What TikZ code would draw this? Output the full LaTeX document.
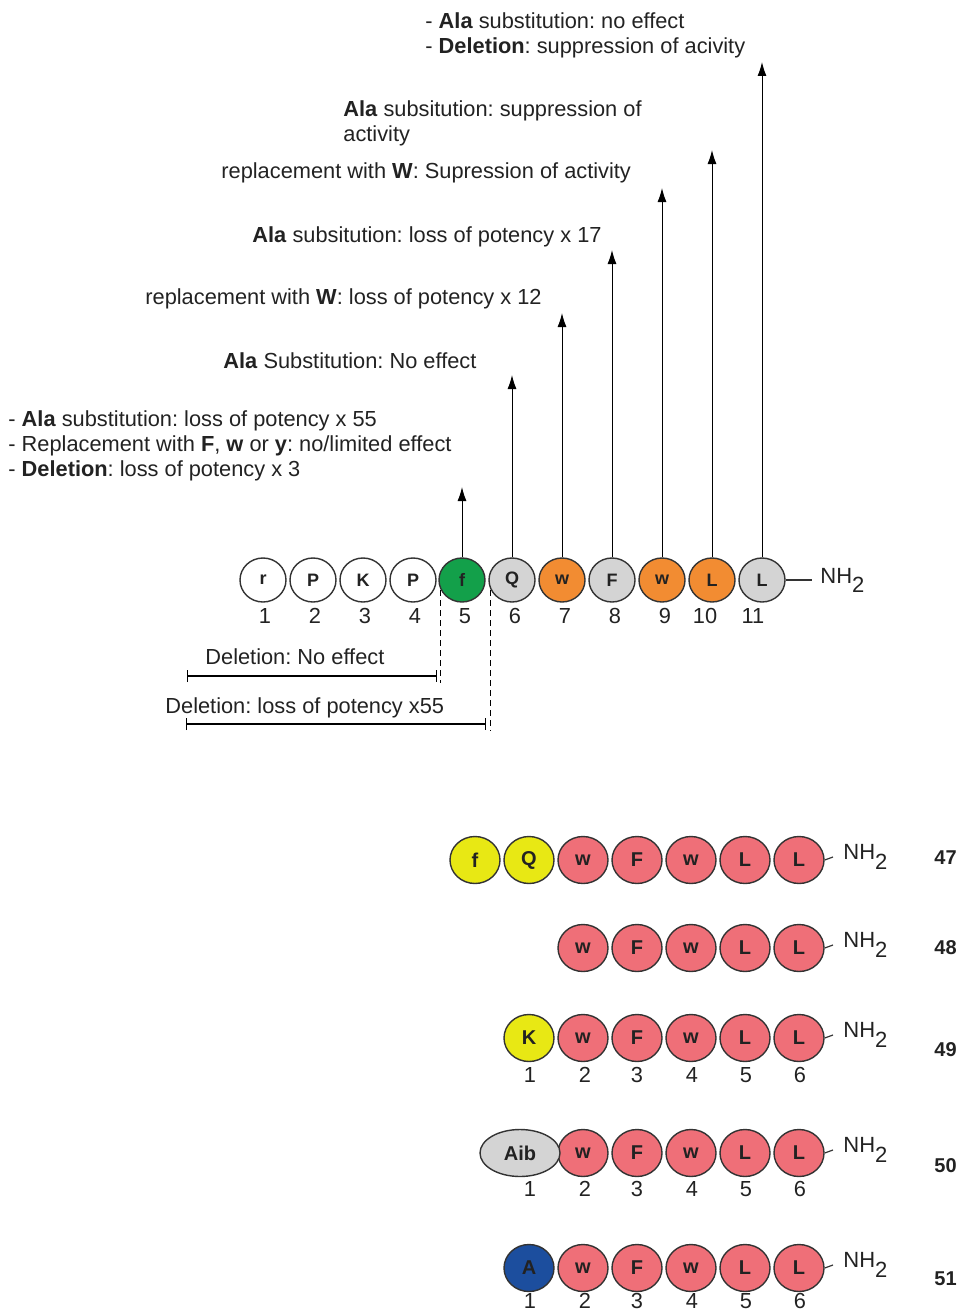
\documentclass[tikz,border=0pt]{standalone}
\usepackage{fontspec}
\setmainfont{Liberation Sans}
\usepackage{xcolor}
\usetikzlibrary{shapes.geometric,arrows.meta}
\definecolor{ink}{HTML}{222222}
\definecolor{rim}{HTML}{333333}
\definecolor{resgreen}{HTML}{13A04A}
\definecolor{resgrey}{HTML}{D4D4D4}
\definecolor{resorange}{HTML}{F28C32}
\definecolor{respink}{HTML}{EF6F78}
\definecolor{resyellow}{HTML}{E8E814}
\definecolor{resblue}{HTML}{1C4E9E}
\frenchspacing

\tikzset{
  res/.style={ellipse,draw=rim,line width=0.7pt,inner sep=0pt,minimum width=23pt,minimum height=22pt,font=\fontsize{9}{10}\selectfont\bfseries},
  bigres/.style={res,minimum width=25pt,minimum height=23.5pt,font=\fontsize{10}{11}\selectfont\bfseries},
  txt/.style={anchor=west,inner sep=0pt,align=left},
  amine/.style={anchor=west,inner ysep=0pt,font=\fontsize{11}{12}\selectfont},
  cut/.style={dashed,dash pattern=on 3pt off 2pt,line width=0.5pt},
  span/.style={{Bar[width=6pt]}-{Bar[width=6pt]},line width=0.6pt},
}

\begin{document}
\begin{tikzpicture}[x=0.5pt,y=-0.5pt,every node/.style={font=\fontsize{10.9}{12.6}\selectfont,color=ink}]
\useasboundingbox (0,0) rectangle (958,1311);
% parent peptide
\foreach \i/\x/\lab/\col/\n in {%
  1/263/r/white/265, 2/313/P/white/315, 3/363/K/white/365,
  4/413/P/white/415, 5/462/f/resgreen/465, 6/512/Q/resgrey/515,
  7/562/w/resorange/565, 8/612/F/resgrey/615, 9/662/w/resorange/665,
  10/712/L/resorange/705, 11/762/L/resgrey/753}{
  \node[res,fill=\col] (t\i) at (\x,580) {\lab};
  \node (n\i) at (\n,616) {\i};
}
\node[amine,inner xsep=4pt] (tnh) at (812,580) {NH\raisebox{-4.5pt}{2}};
\draw[rim,line width=0.6pt] (t11.east) -- (tnh.west);

% arrows to the notes
\foreach \i/\x/\y in {5/462/487,6/512/375,7/562/313,8/612/250,9/662/188,10/712/150,11/762/62}{
  \coordinate (tip\i) at (\x,\y);
  \draw[line width=0.5pt,-{Latex[length=7pt,width=4.5pt]}] (t\i.north) -- (tip\i);
}

% notes
\node[txt] (note11) at (425,35) {- \textbf{Ala} substitution: no effect\\- \textbf{Deletion}: suppression of acivity};
\node[txt] (note10) at (343,123) {\textbf{Ala} subsitution: suppression of\\activity};
\node[txt] (note9) at (221,173) {replacement with \textbf{W}: Supression of activity};
\node[txt] (note8) at (252,237) {\textbf{Ala} subsitution: loss of potency x 17};
\node[txt] (note7) at (145,299) {replacement with \textbf{W}: loss of potency x 12};
\node[txt] (note6) at (223,361) {\textbf{Ala} Substitution: No effect};
\node[txt] (note5) at (8,446) {- \textbf{Ala} substitution: loss of potency x 55\\- Replacement with \textbf{F}, \textbf{w} or \textbf{y}: no/limited effect\\- \textbf{Deletion}: loss of potency x 3};

% deletions
\coordinate (cutA) at (440,590);
\coordinate (cutAend) at (440,683);
\coordinate (cutB) at (490,590);
\coordinate (cutBend) at (490,731);
\draw[cut] (cutA) -- (cutAend);
\draw[cut] (cutB) -- (cutBend);
\coordinate (delAl) at (187,676);
\coordinate (delAr) at (437,676);
\coordinate (delBl) at (186,724);
\coordinate (delBr) at (486,724);
\draw[span] (delAl) -- (delAr);
\draw[span] (delBl) -- (delBr);
\node[txt] (delA) at (205,657) {Deletion: No effect};
\node[txt] (delB) at (165,708) {Deletion: loss of potency x55};

% analogues 47-51
\foreach \r/\y/\ly in {47/860/858,48/948/948,49/1038/1050,50/1153/1166,51/1268/1279}{
  \foreach \j/\lab/\x in {2/w/583,3/F/637,4/w/691,5/L/745,6/L/799}{
    \node[bigres,fill=respink] (c\r-\j) at (\x,\y) {\lab};
  }
  \node[amine,inner xsep=5pt] (nh\r) at (833,\y-3) {NH\raisebox{-5pt}{2}};
  \draw[rim,line width=0.6pt] (c\r-6.east) -- (nh\r.west);
  \node[anchor=west,inner sep=0pt,font=\fontsize{10}{12}\selectfont\bfseries] (cpd\r) at (934,\ly) {\r};
}
\node[bigres,fill=resyellow] (c47-0) at (475,860) {f};
\node[bigres,fill=resyellow] (c47-1) at (529,860) {Q};
\node[bigres,fill=resyellow] (c49-1) at (529,1038) {K};
\node[bigres,fill=resgrey,minimum width=40pt] (c50-1) at (520,1153) {Aib};
\node[bigres,fill=resblue] (c51-1) at (529,1268) {A};

% numbering
\foreach \r/\y in {49/1075,50/1189,51/1301}{
  \foreach \j/\x in {1/530,2/585,3/637,4/692,5/746,6/800}{
    \node (p\r-\j) at (\x,\y) {\j};
  }
}
\end{tikzpicture}
\end{document}
